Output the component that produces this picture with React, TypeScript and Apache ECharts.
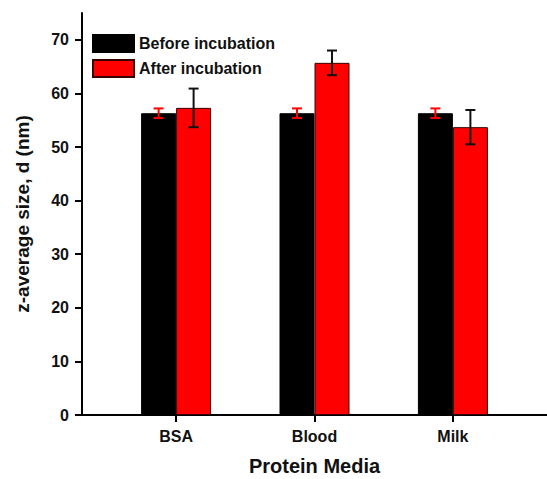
import React, { useEffect, useRef } from "react";
import * as echarts from "echarts";

const categories = ["BSA", "Blood", "Milk"];
const categoryPositions = [1, 2, 3];
const beforeValues = [56.3, 56.3, 56.3];
const beforeErrors = [0.9, 0.9, 0.9];
const afterValues = [57.3, 65.7, 53.7];
const afterErrors = [3.6, 2.3, 3.2];
const yTicks = [0, 10, 20, 30, 40, 50, 60, 70];
const seriesNames = ["Before incubation", "After incubation"];

const FONT = "Arial, 'Liberation Sans', sans-serif";
const BAR_W = 35;
const CAP = 5;

function errorSeries(values: number[], errors: number[], offset: number, color: string) {
  return {
    type: "custom",
    silent: true,
    z: 5,
    data: categoryPositions.map((x, i) => [x, values[i], errors[i]]),
    renderItem: (params: any, api: any) => {
      const x = api.value(0);
      const y = api.value(1);
      const e = api.value(2);
      const top = api.coord([x, y + e]);
      const bot = api.coord([x, y - e]);
      const cx = top[0] + offset;
      const style = { stroke: color, lineWidth: 2 };
      return {
        type: "group",
        children: [
          { type: "line", shape: { x1: cx, y1: top[1], x2: cx, y2: bot[1] }, style },
          { type: "line", shape: { x1: cx - CAP, y1: top[1], x2: cx + CAP, y2: top[1] }, style },
          { type: "line", shape: { x1: cx - CAP, y1: bot[1], x2: cx + CAP, y2: bot[1] }, style },
        ],
      };
    },
  };
}

export default function App() {
  const ref = useRef<HTMLDivElement>(null);
  useEffect(() => {
    document.body.style.margin = "0";
    const chart = echarts.init(ref.current!, null, { renderer: "svg" });
    chart.setOption({
      animation: false,
      backgroundColor: "#fff",
      textStyle: { fontFamily: FONT },
      grid: { left: 82, right: 0, top: 13, bottom: 64, containLabel: false, outerBoundsMode: "none" },
      legend: {
        orient: "vertical",
        left: 92,
        top: 34,
        itemWidth: 41,
        itemHeight: 17,
        itemGap: 6,
        padding: 0,
        icon: "rect",
        textStyle: { fontSize: 16, fontWeight: "bold", color: "#111", fontFamily: FONT },
        data: seriesNames,
      },
      xAxis: {
        type: "value",
        min: 0.32,
        max: 3.68,
        splitLine: { show: false },
        name: "Protein Media",
        nameLocation: "middle",
        nameGap: 41,
        nameTextStyle: { fontSize: 20, fontWeight: "bold", color: "#111", fontFamily: FONT, lineHeight: 20 },
        axisLine: { show: true, onZero: false, lineStyle: { color: "#000", width: 2 } },
        axisTick: { show: true, length: 7, lineStyle: { color: "#000", width: 2 }, customValues: categoryPositions },
        axisLabel: {
          customValues: categoryPositions,
          formatter: (v: number) => categories[categoryPositions.indexOf(Math.round(v))] ?? "",
          fontSize: 16,
          fontWeight: "bold",
          color: "#111",
          margin: 13,
          fontFamily: FONT,
        },
      },
      yAxis: {
        type: "value",
        min: 0,
        max: 75,
        splitLine: { show: false },
        name: "z-average size, d (nm)",
        nameLocation: "middle",
        nameGap: 50,
        nameTextStyle: { fontSize: 19, fontWeight: "bold", color: "#111", fontFamily: FONT },
        axisLine: { show: true, lineStyle: { color: "#000", width: 2 } },
        axisTick: { show: true, length: 7, lineStyle: { color: "#000", width: 2 }, customValues: yTicks },
        axisLabel: {
          customValues: yTicks,
          fontSize: 16,
          fontWeight: "bold",
          color: "#111",
          margin: 13,
          fontFamily: FONT,
        },
      },
      series: [
        {
          type: "bar",
          name: seriesNames[0],
          barWidth: BAR_W,
          barGap: "0%",
          itemStyle: { color: "#000", borderColor: "#000", borderWidth: 1 },
          data: categoryPositions.map((x, i) => [x, beforeValues[i]]),
        },
        {
          type: "bar",
          name: seriesNames[1],
          barWidth: BAR_W,
          barGap: "0%",
          itemStyle: { color: "#ff0000", borderColor: "#3a0000", borderWidth: 1 },
          data: categoryPositions.map((x, i) => [x, afterValues[i]]),
        },
        errorSeries(beforeValues, beforeErrors, -BAR_W / 2, "#ff0000"),
        errorSeries(afterValues, afterErrors, BAR_W / 2, "#111"),
      ],
    });
    return () => chart.dispose();
  }, []);
  return <div ref={ref} style={{ width: 547, height: 479 }} />;
}
